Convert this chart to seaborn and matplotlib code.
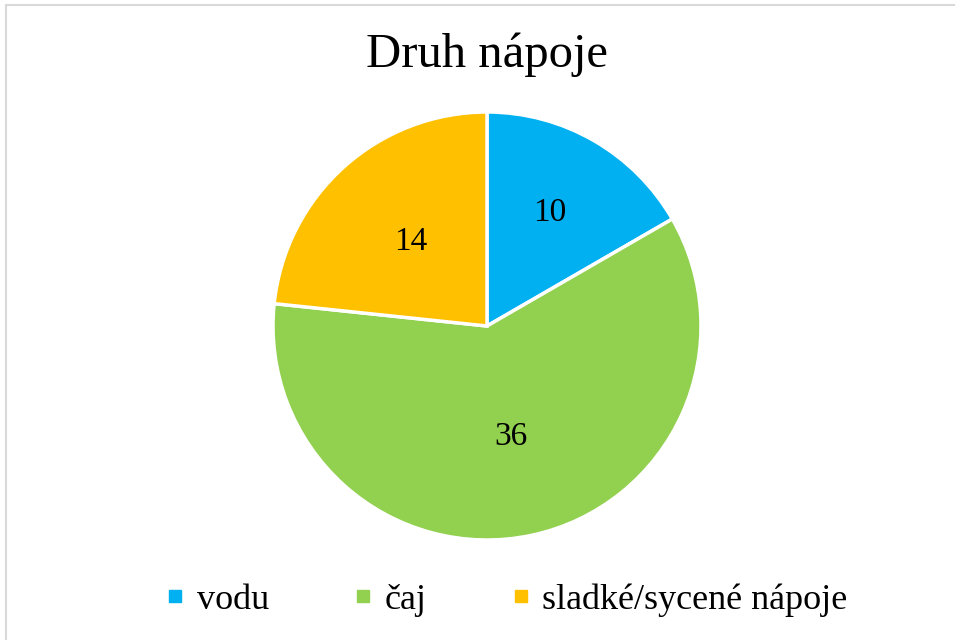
import matplotlib
matplotlib.use("Agg")
import matplotlib.pyplot as plt
import seaborn as sns
from matplotlib.lines import Line2D

categories = ["vodu", "čaj", "sladké/sycené nápoje"]
values = [10, 36, 14]
colors = ["#00B0F0", "#92D050", "#FFC000"]
title = "Druh nápoje"

sns.set_theme(style="white")
plt.rcParams["font.family"] = ["Liberation Serif", "DejaVu Serif"]
plt.rcParams["text.color"] = "black"

fig = plt.figure(figsize=(9.55, 6.4), dpi=100)
W, H = 955, 640
cx, cy, r = 487, 326, 214
ax = fig.add_axes([(cx - r) / W, (H - cy - r) / H, 2 * r / W, 2 * r / H])

wedges, texts, autotexts = ax.pie(
    values,
    colors=colors,
    startangle=90,
    counterclock=False,
    autopct=lambda p: f"{p * sum(values) / 100:.0f}",
    pctdistance=0.53,
    wedgeprops=dict(edgecolor="white", linewidth=2.5),
    textprops=dict(fontsize=24, color="black"),
)
# the small slice label sits a bit further out
x0, y0 = autotexts[0].get_position()
autotexts[0].set_position((x0 * 0.59 / 0.53, y0 * 0.61 / 0.53))

ax.set_xlim(-1, 1)
ax.set_ylim(-1, 1)
ax.set_aspect("equal")
ax.axis("off")

fig.text(487 / W, 1 - 55 / H, title, ha="center", va="center", fontsize=35, color="black")

handles = [Line2D([0], [0], marker="s", linestyle="none", markersize=8.5,
                  markerfacecolor=c, markeredgecolor=c) for c in colors]
fig.legend(handles, categories, loc="center", bbox_to_anchor=(506 / W, 1 - 600 / H),
           ncol=3, frameon=False, fontsize=26, handletextpad=0.3,
           columnspacing=2.3, handlelength=0.6, borderpad=0, borderaxespad=0)

# left and top frame lines of the chart area
fig.add_artist(Line2D([6 / W, 6 / W], [0, 1 - 5 / H], color="#d9d9d9", lw=1.5,
                      transform=fig.transFigure))
fig.add_artist(Line2D([6 / W, 1], [1 - 5 / H, 1 - 5 / H], color="#d9d9d9", lw=1.5,
                      transform=fig.transFigure))

fig.savefig("out.png", dpi=100, facecolor="white")
